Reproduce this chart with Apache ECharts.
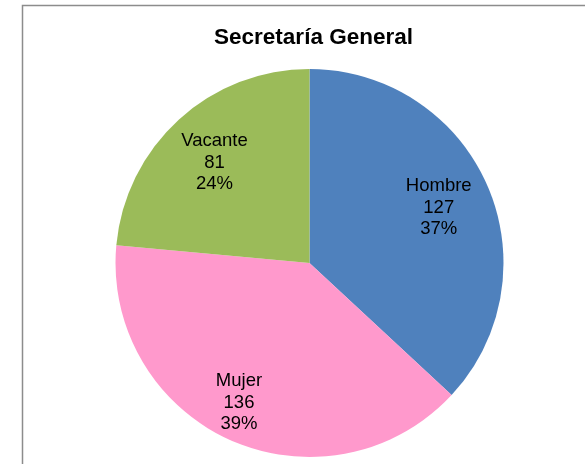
<!DOCTYPE html>
<html>
<head>
<meta charset="utf-8">
<script src="https://cdn.jsdelivr.net/npm/echarts@6/dist/echarts.min.js"></script>
<style>html,body{margin:0;padding:0;background:#fff;}#c{width:585px;height:464px;}</style>
</head>
<body>
<div id="c"></div>
<script>
var titleText = 'Secretaría General';
var categories = ['Hombre', 'Mujer', 'Vacante'];
var values = [127, 136, 81];
var colors = ['#4F81BD', '#FF99CC', '#9BBB59'];

var font = '"Liberation Sans", Arial, sans-serif';
var chart = echarts.init(document.getElementById('c'));

var pieData = categories.map(function (n, i) {
  return { name: n, value: values[i], itemStyle: { color: colors[i] } };
});
var labelOffsets = { 'Hombre': [0, 1], 'Mujer': [-13, 11], 'Vacante': [0, 4] };
var labelData = categories.map(function (n, i) {
  return { name: n, value: values[i], label: { offset: labelOffsets[n] || [0, 0] } };
});

chart.setOption({
  animation: false,
  backgroundColor: '#ffffff',
  title: {
    text: titleText,
    left: 308.5,
    top: 21,
    textAlign: 'center',
    textStyle: { fontFamily: font, fontSize: 22.5, fontWeight: 'bold', color: '#000' }
  },
  graphic: [{
    type: 'rect',
    shape: { x: 22.5, y: 5.5, width: 700, height: 600 },
    style: { fill: 'none', stroke: '#8c8c8c', lineWidth: 1.5 },
    silent: true
  }],
  series: [{
    type: 'pie',
    center: [309.5, 263],
    radius: [0, 194],
    startAngle: 90,
    clockwise: true,
    label: { show: false },
    labelLine: { show: false },
    itemStyle: { borderWidth: 0 },
    data: pieData,
    silent: true
  }, {
    type: 'pie',
    center: [309.5, 263],
    radius: [0, 276],
    startAngle: 90,
    clockwise: true,
    percentPrecision: 0,
    itemStyle: { color: 'rgba(0,0,0,0)', borderWidth: 0 },
    label: {
      show: true,
      position: 'inside',
      formatter: '{b}\n{c}\n{d}%',
      fontFamily: font,
      fontSize: 18.5,
      lineHeight: 21.5,
      color: '#000',
      align: 'center'
    },
    labelLine: { show: false },
    data: labelData,
    silent: true,
    z: 3
  }]
});
</script>
</body>
</html>
